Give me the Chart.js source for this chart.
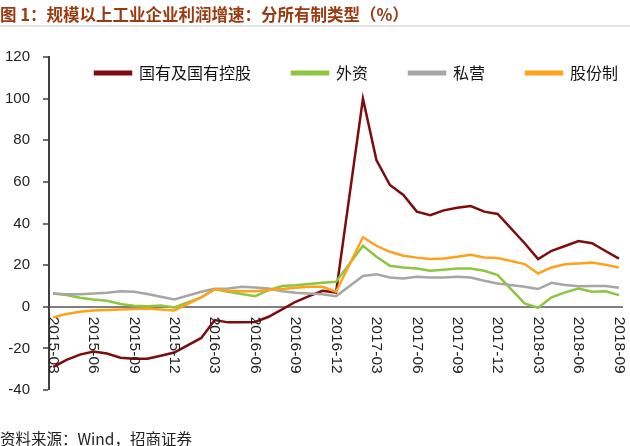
<!DOCTYPE html>
<html>
<head>
<meta charset="utf-8">
<script src="https://cdn.jsdelivr.net/npm/chart.js@4"></script>
<style>
  html, body { margin: 0; padding: 0; background: #fff; }
  body { width: 630px; height: 446px; position: relative; overflow: hidden; }
  #wrap { position: absolute; left: 0; top: 0; width: 630px; height: 446px; }
  .title {
    position: absolute; left: 0; top: 3px; width: 630px; height: 22px;
    font: bold 16.5px "Noto Sans CJK SC", sans-serif; color: #9a3a10;
    line-height: 22px; border-bottom: 2px solid #e4e4e4; white-space: nowrap;
  }
  .source {
    position: absolute; left: 0; top: 427px;
    font: 15.5px "Noto Sans CJK SC", sans-serif; color: #222; white-space: nowrap;
  }
</style>
</head>
<body>
<div id="wrap"><canvas id="chart-main"></canvas></div>
<div class="title">图 1：规模以上工业企业利润增速：分所有制类型（%）</div>
<div class="source">资料来源：Wind，招商证券</div>
<script>
// ===== Data (monthly, Jan is reported together with Feb -> null) =====
const months = [
  '2015-03','2015-04','2015-05','2015-06','2015-07','2015-08','2015-09','2015-10','2015-11','2015-12',
  '2016-01','2016-02','2016-03','2016-04','2016-05','2016-06','2016-07','2016-08','2016-09','2016-10','2016-11','2016-12',
  '2017-01','2017-02','2017-03','2017-04','2017-05','2017-06','2017-07','2017-08','2017-09','2017-10','2017-11','2017-12',
  '2018-01','2018-02','2018-03','2018-04','2018-05','2018-06','2018-07','2018-08','2018-09'
];
const tickLabels = ['2015-03','2015-06','2015-09','2015-12','2016-03','2016-06','2016-09','2016-12',
  '2017-03','2017-06','2017-09','2017-12','2018-03','2018-06','2018-09'];

const seriesNames = ['国有及国有控股', '外资', '私营', '股份制'];

const stateOwned = [
  -29, -25.5, -23, -21.5, -22.5, -24.5, -25, -25, -23.5, -22,
  null, -15, -6.4, -7.5, -7.5, -7.3, -4.8, -1.3, 2.4, 5.1, 7.7, 6.8,
  null, 100, 70.5, 58.5, 53.7, 45.7, 44, 46.3, 47.6, 48.4, 45.7, 44.6,
  null, 30.5, 22.9, 26.9, 29.2, 31.6, 30.5, 26.8, 23.1
];
const foreign = [
  6.4, 5.6, 4.3, 3.5, 2.9, 1.3, 0.5, 0.3, 0.6, -0.3,
  null, 4.5, 8.4, 7.2, 6.1, 5.1, 8, 10, 10.3, 10.9, 11.5, 12,
  null, 29.3, 24, 19.7, 18.9, 18.4, 17.3, 17.8, 18.4, 18.4, 17.3, 15.2,
  null, 1.6, -0.5, 4.5, 6.9, 8.7, 7.2, 7.4, 5.6
];
const privateEnt = [
  6.4, 6, 6, 6.4, 6.7, 7.4, 7.2, 6.1, 4.8, 3.5,
  null, 7.2, 8.6, 8.8, 9.6, 9.3, 8.8, 7.5, 6.7, 6.4, 6, 5.1,
  null, 14.8, 15.6, 14.1, 13.6, 14.4, 14, 14, 14.4, 14, 12.5, 11.2,
  null, 9.6, 8.5, 11.5, 10.4, 9.8, 10, 10, 9.1
];
const jointStock = [
  -5.1, -3.5, -2.4, -1.8, -1.6, -1.3, -1.1, -0.9, -1.3, -1.8,
  null, 4.5, 8.4, 7.7, 7.5, 7.5, 8, 8.5, 9.1, 9.6, 9.6, 7.2,
  null, 33.4, 29.3, 26.4, 24.5, 23.6, 22.9, 23.2, 24, 25, 23.7, 23.4,
  null, 20.5, 16, 18.9, 20.4, 20.8, 21.2, 20.2, 18.9
];

const yTicks = [-40, -20, 0, 20, 40, 60, 80, 100, 120];

const COLORS = ['#7d0c0c', '#8cc63f', '#a6a6a6', '#ffa11a'];

const toPoints = (arr) => arr.map((v, i) => ({ x: i, y: v }));

// x tick labels read top-to-bottom, drawn along the library's x scale
const rotatedTicks = {
  id: 'rotatedTicks',
  afterDraw(chart) {
    const { ctx, scales: { x, y } } = chart;
    const y0 = y.getPixelForValue(0) + 10;
    ctx.save();
    ctx.fillStyle = '#222';
    ctx.font = '15.5px "Liberation Sans", Arial, sans-serif';
    ctx.textAlign = 'left';
    ctx.textBaseline = 'middle';
    tickLabels.forEach(lbl => {
      const px = x.getPixelForValue(months.indexOf(lbl));
      ctx.save();
      ctx.translate(px, y0);
      ctx.rotate(Math.PI / 2);
      ctx.fillText(lbl, 0, 0);
      ctx.restore();
    });
    ctx.restore();
  }
};

// legend takes no layout room; it sits inside the plot, near its top
const legendShift = {
  id: 'legendShift',
  afterLayout(chart) {
    const lg = chart.legend;
    if (!lg) return;
    const dx = 54, top = 24, h = 70;
    lg.left += dx; lg.right += dx;
    lg.top = top; lg.bottom = top + h; lg.height = h;
  }
};

const canvas = document.getElementById('chart-main');
canvas.width = 630;
canvas.height = 446;

new Chart(canvas, {
  type: 'line',
  data: {
    datasets: [stateOwned, foreign, privateEnt, jointStock].map((arr, i) => ({
      label: seriesNames[i],
      data: toPoints(arr),
      borderColor: COLORS[i],
      backgroundColor: COLORS[i],
      borderWidth: 2.5,
      pointRadius: 0,
      tension: 0,
      spanGaps: true,
      order: 3 - i,
    }))
  },
  options: {
    responsive: false,
    animation: false,
    devicePixelRatio: 1,
    layout: { padding: { left: 0, right: 7, top: 56, bottom: 56 } },
    plugins: {
      legend: {
        position: 'top',
        align: 'start',
        maxHeight: 1,
        labels: {
          boxWidth: 36,
          boxHeight: 2.5,
          padding: 41,
          color: '#111',
          font: { family: '"Noto Sans CJK SC", sans-serif', size: 16 },
          sort: (a, b) => a.datasetIndex - b.datasetIndex,
        }
      },
      tooltip: { enabled: false }
    },
    scales: {
      x: {
        type: 'linear',
        min: -0.3,
        max: 42.3,
        display: false,
      },
      y: {
        min: -40,
        max: 120,
        afterFit: (s) => { s.width = 49; },
        afterBuildTicks: (s) => { s.ticks = yTicks.map(v => ({ value: v })); },
        ticks: {
          color: '#222',
          padding: 13,
          font: { family: '"Liberation Sans", Arial, sans-serif', size: 15 },
        },
        grid: {
          color: (c) => (c.tick && c.tick.value === 0 ? '#7f7f7f' : 'rgba(0,0,0,0)'),
          lineWidth: (c) => (c.tick && c.tick.value === 0 ? 2 : 0),
          tickColor: '#404040',
          tickWidth: 1.5,
          tickLength: 6,
          drawTicks: true,
        },
        border: { display: true, color: '#404040', width: 2 },
      }
    }
  },
  plugins: [legendShift, rotatedTicks]
});
</script>
</body>
</html>
